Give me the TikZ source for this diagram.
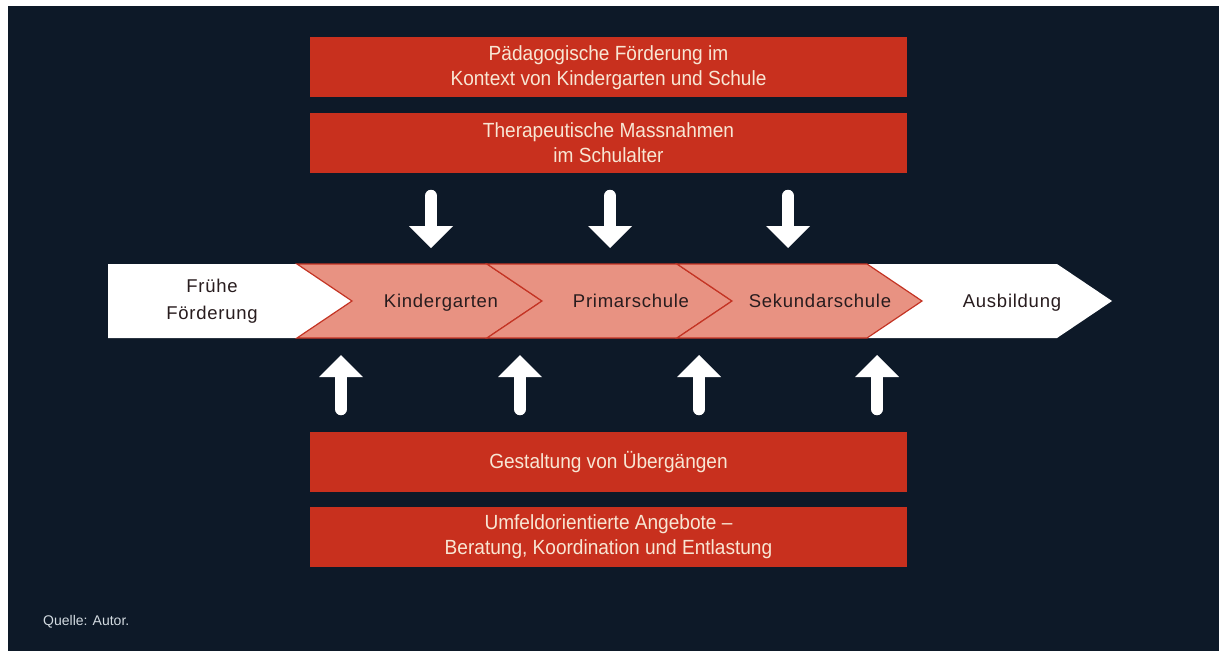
\documentclass[tikz,border=0pt]{standalone}
\usepackage{fontspec}
\setmainfont{Liberation Sans}
\newfontfamily\boxfont{Liberation Sans}[FakeStretch=0.93]
\newfontfamily\stepfont{Liberation Sans}[LetterSpace=4]
\usetikzlibrary{arrows.meta,positioning}

\definecolor{navy}{RGB}{13,25,40}
\definecolor{boxred}{RGB}{200,48,30}
\definecolor{salmon}{RGB}{232,146,130}
\definecolor{chevline}{RGB}{196,52,36}
\definecolor{cream}{RGB}{248,230,212}
\definecolor{ink}{RGB}{40,28,30}
\definecolor{note}{RGB}{210,218,224}

\tikzset{
    redbox/.style={fill=boxred, text=cream, minimum width=597pt, minimum height=60pt,
        inner sep=0pt, align=center, font={\boxfont\fontsize{20.5}{25}\selectfont}},
    steptext/.style={text=ink, align=center, inner sep=0pt, font={\stepfont\fontsize{18.5}{27}\selectfont}},
    whitearrow/.style={draw=white, line width=12.5pt, line cap=round,
        -{Triangle[width=44pt,length=22pt,line width=0pt]}},
}

\begin{document}
\begin{tikzpicture}[x=1pt,y=-1pt]
        % paper and dark background
        \fill[white] (0,0) rectangle (1219,651);
        \fill[navy] (8,6) rectangle (1219,651);
        \useasboundingbox (0,0) rectangle (1219,651);
        % boxes above the band
        \node[redbox] (paed) at (608.5,67.3) {P\"adagogische F\"orderung im\\Kontext von Kindergarten und Schule};
        \node[redbox, below=15.4pt of paed] (thera) {Therapeutische Massnahmen\\im Schulalter};
        % boxes below the band
        \node[redbox] (ueber) at (608.5,461.7) {Gestaltung von \"Uberg\"angen};
        \node[redbox, below=15pt of ueber] (umfeld) {Umfeldorientierte Angebote \textendash\\Beratung, Koordination und Entlastung};
        % white end pieces of the band
        \fill[white] (108,264) -- (297,264) -- (352,301) -- (297,338) -- (108,338) -- cycle;
        \fill[white] (867,264) -- (1057,264) -- (1112,301) -- (1057,338) -- (867,338) -- (922,301) -- cycle;
        % salmon chevrons in the middle
        \foreach \x in {297, 487, 677}{
            \filldraw[fill=salmon, draw=chevline, line width=1.2pt, line join=miter]
                (\x,264) -- (\x+190,264) -- (\x+245,301) -- (\x+190,338) -- (\x,338) -- (\x+55,301) -- cycle;
        }
        % labels of the band
        \node[steptext] (frueh) at (212,301) {Fr\"uhe\\F\"orderung};
        \node[steptext, anchor=base] (kiga) at (441,307.5) {Kindergarten};
        \node[steptext, anchor=base] (primar) at (631,307.5) {Primarschule};
        \node[steptext, anchor=base] (sek) at (820,307.5) {Sekundarschule};
        \node[steptext, anchor=base] (ausb) at (1012,307.5) {Ausbildung};
        % arrows pointing down onto the band
        \foreach \x [count=\i] in {431, 610, 788}{
            \coordinate (dn\i a) at (\x,196);
            \coordinate (dn\i b) at (\x,248);
            \draw[whitearrow] (dn\i a) -- (dn\i b);
        }
        % arrows pointing up onto the band
        \foreach \x [count=\i] in {341, 520, 699, 877}{
            \coordinate (up\i a) at (\x,409);
            \coordinate (up\i b) at (\x,355);
            \draw[whitearrow] (up\i a) -- (up\i b);
        }
        % source line
        \node[anchor=west, inner sep=0pt, text=note, font={\fontsize{14}{16}\selectfont}] (quelle) at (43,622) {Quelle: Autor.};
    \end{tikzpicture}
\end{document}
